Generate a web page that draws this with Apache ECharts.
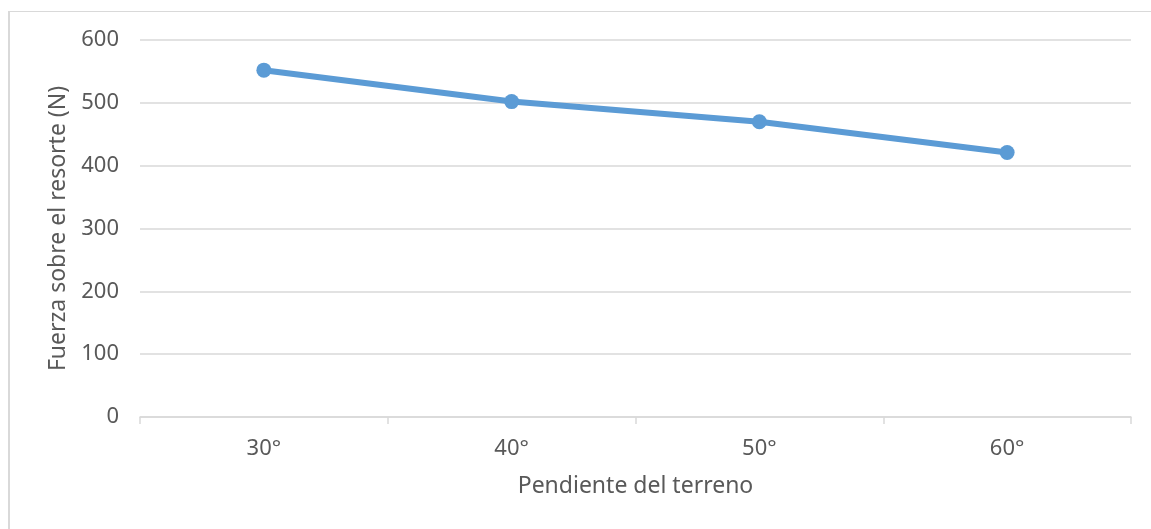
<!DOCTYPE html>
<html>
<head>
<meta charset="utf-8">
<style>
  html, body { margin: 0; padding: 0; background: #ffffff; }
  #frame {
    position: absolute; left: 8px; top: 11px; right: 0; bottom: 0;
    border-top: 1px solid #d9d9d9; border-left: 2px solid #d9d9d9;
  }
  #chart { position: absolute; left: 0; top: 0; width: 1151px; height: 529px; }
</style>
<script src="https://cdn.jsdelivr.net/npm/echarts@6/dist/echarts.min.js"></script>
</head>
<body>
<div id="frame"></div>
<div id="chart"></div>
<script>
// Spring force versus terrain slope
const slopes = ['30°', '40°', '50°', '60°'];
const springForce = [552, 502, 470, 421];
const yTicks = { min: 0, max: 600, step: 100 };
const xTitle = 'Pendiente del terreno';
const yTitle = 'Fuerza sobre el resorte (N)';

const textColor = '#595959';
const gridColor = '#d9d9d9';
const lineColor = '#5b9bd5';
const fontFamily = '"Noto Sans", "Open Sans", sans-serif';

const chart = echarts.init(document.getElementById('chart'), null, { renderer: 'canvas' });
chart.setOption({
  backgroundColor: 'transparent',
  animation: false,
  grid: { left: 140, right: 20, top: 40, bottom: 112 },
  xAxis: {
    type: 'category',
    data: slopes,
    boundaryGap: true,
    name: xTitle,
    nameLocation: 'middle',
    nameGap: 58,
    nameTextStyle: { color: textColor, fontSize: 23, fontFamily: fontFamily },
    axisLine: { show: true, lineStyle: { color: gridColor, width: 1.5 } },
    axisTick: { show: true, length: 7, lineStyle: { color: gridColor, width: 1.5 } },
    axisLabel: { color: textColor, fontSize: 22, fontFamily: fontFamily, margin: 21 },
    splitLine: { show: false }
  },
  yAxis: {
    type: 'value',
    min: yTicks.min,
    max: yTicks.max,
    interval: yTicks.step,
    name: yTitle,
    nameLocation: 'middle',
    nameGap: 68,
    nameRotate: 90,
    nameTextStyle: { color: textColor, fontSize: 23, fontFamily: fontFamily },
    axisLine: { show: false },
    axisTick: { show: false },
    axisLabel: { color: textColor, fontSize: 22, fontFamily: fontFamily, margin: 21 },
    splitLine: { show: true, lineStyle: { color: gridColor, width: 1.5 } }
  },
  series: [{
    type: 'line',
    data: springForce,
    symbol: 'circle',
    symbolSize: 15,
    lineStyle: { color: lineColor, width: 6 },
    itemStyle: { color: lineColor },
    z: 3
  }]
});
</script>
</body>
</html>
